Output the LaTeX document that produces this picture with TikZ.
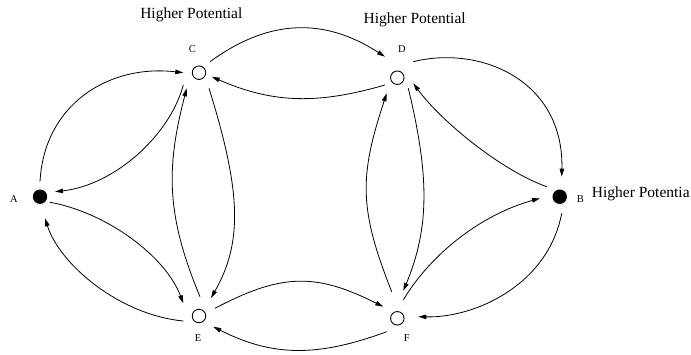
\documentclass[tikz,border=0pt]{standalone}
\usepackage{fontspec}
\setmainfont{Liberation Serif}
\usetikzlibrary{calc,arrows.meta}
\tikzset{
  vtx/.style={circle,draw,line width=0.9pt,minimum size=13.5pt,inner sep=0pt},
  vtxfill/.style={vtx,fill=black},
  edge/.style={line width=0.8pt,-{Triangle[length=8pt,width=4.5pt]}},
  lab/.style={font=\fontsize{10.5}{12}\selectfont,anchor=base,inner sep=0pt},
  pot/.style={font=\fontsize{15.5}{18}\selectfont,anchor=base,inner sep=0pt}
}
\begin{document}
\begin{tikzpicture}[x=1pt,y=-1pt]
\useasboundingbox (0,0) rectangle (691,354);
% vertices
\node[vtxfill] (A) at (40,196.7) {};
\node[vtx] (C) at (199,72.7) {};
\node[vtx] (D) at (397.3,77.7) {};
\node[vtx] (E) at (199,316) {};
\node[vtx] (F) at (397.3,318.3) {};
\node[vtxfill] (B) at (559.7,196.7) {};
% labels
\node[lab] (lA) at (14,202.3) {A};
\node[lab] (lB) at (580.3,202.3) {B};
\node[lab] (lC) at (192.3,52.7) {C};
\node[lab] (lD) at (402,52.7) {D};
\node[lab] (lE) at (198,341) {E};
\node[lab] (lF) at (406.7,341) {F};
\node[pot] (p1) at (191.3,18.3) {Higher Potential};
\node[pot] (p2) at (414.7,23.3) {Higher Potential};
\node[pot,anchor=base west] (p3) at (591.7,197.3) {Higher Potentia};
% edges
\draw[edge] ($(A)+(0,-15)$) .. controls (44,105) and (108,64) .. ($(C)+(-15.7,0)$);
\draw[edge] ($(C)+(-15.7,12.3)$) .. controls (170,135) and (115,185) .. ($(A)+(15,-5)$);
\draw[edge] ($(A)+(10,5.6)$) .. controls (105,212) and (165,255) .. ($(E)+(-15.7,-12.7)$);
\draw[edge] ($(E)+(-15.7,5)$) .. controls (120,315) and (60,265) .. ($(A)+(5,21.6)$);
\draw[edge] ($(C)+(10,15.6)$) .. controls (241,191) and (243,242) .. ($(E)+(12,-18)$);
\draw[edge] ($(E)+(1,-19.3)$) .. controls (166,215) and (166,168) .. ($(C)+(-12.3,15.6)$);
\draw[edge] ($(C)+(11,-11)$) .. controls (270,18) and (325,18) .. ($(D)+(-12.3,-21)$);
\draw[edge] ($(D)+(-12.3,7.3)$) .. controls (319,104) and (274,104) .. ($(C)+(12.7,4)$);
\draw[edge] ($(E)+(16,-7.7)$) .. controls (282,273) and (316,273) .. ($(F)+(-14,-11.6)$);
\draw[edge] ($(F)+(-10.6,13.4)$) .. controls (318,357) and (273,357) .. ($(E)+(14.3,10.7)$);
\draw[edge] ($(D)+(11,10.6)$) .. controls (429.5,176) and (429.5,228) .. ($(F)+(6,-27.5)$);
\draw[edge] ($(F)+(-5.6,-26.6)$) .. controls (359,209) and (359,177) .. ($(D)+(-10.6,15.6)$);
\draw[edge] ($(D)+(16,-16)$) .. controls (480,45) and (564,80) .. ($(B)+(2,-20)$);
\draw[edge] ($(B)+(-13,-10)$) .. controls (500,170) and (440,120) .. ($(D)+(16,5.6)$);
\draw[edge] ($(F)+(6,-18.3)$) .. controls (430,255) and (480,215) .. ($(B)+(-19.7,1.6)$);
\draw[edge] ($(B)+(2,16.6)$) .. controls (548,285) and (475,318) .. ($(F)+(21,-1.6)$);
\end{tikzpicture}
\end{document}
